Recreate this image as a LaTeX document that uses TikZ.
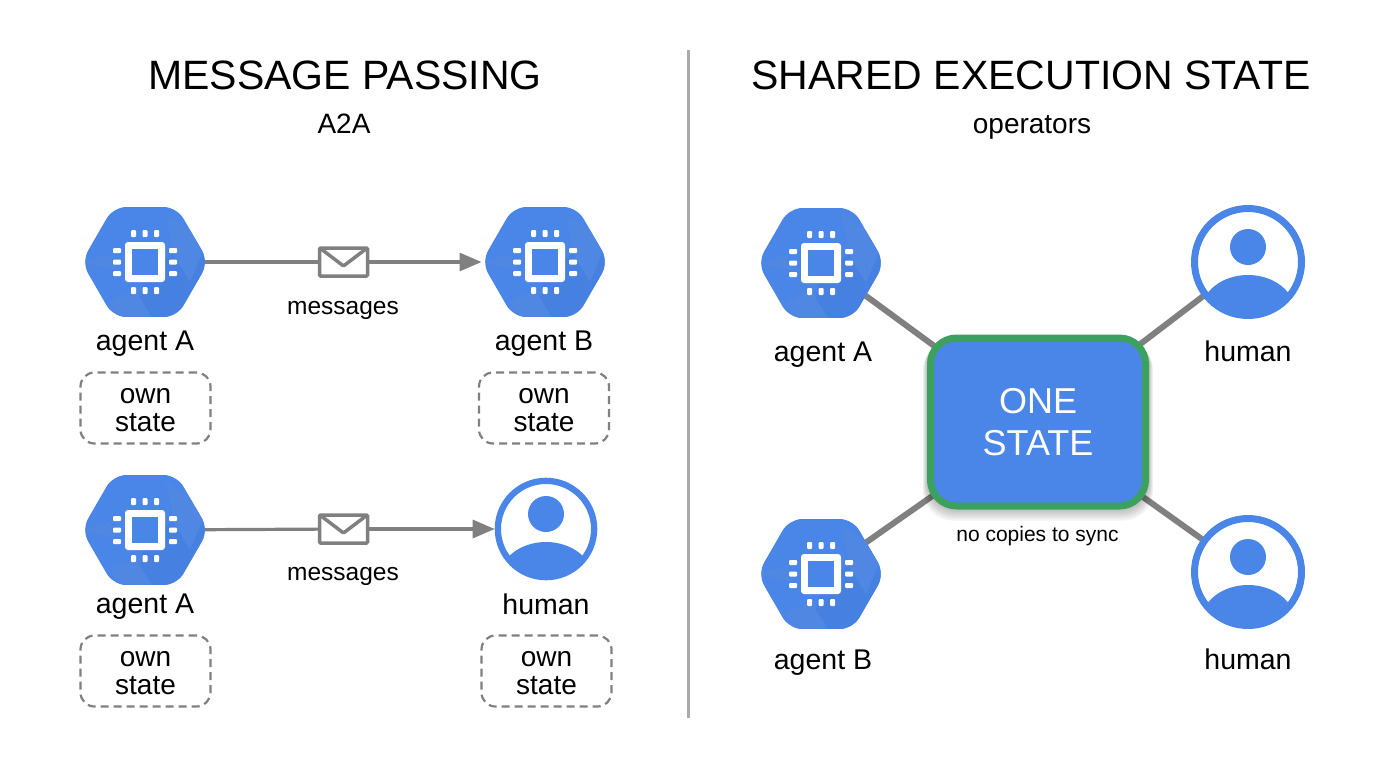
\documentclass[tikz,border=0pt]{standalone}
\usepackage{fontspec}
\setmainfont{Liberation Sans}
\usepackage{xcolor}
\definecolor{gblue}{RGB}{74,134,232}
\definecolor{gfacet}{RGB}{80,135,226}
\definecolor{gshade}{RGB}{70,129,226}
\definecolor{ggreen}{RGB}{60,160,95}
\definecolor{linegray}{RGB}{128,128,128}
\definecolor{divgray}{RGB}{170,170,170}
\usetikzlibrary{arrows.meta,shapes.geometric,backgrounds}

% chip symbol, drawn around the centre of the hexagon
\newcommand{\chipicon}{%
  \fill[gshade] (0,10) -- (60,-30) -- (60,60) -- (-10,60) -- cycle;
  \fill[gfacet] (20,-50) -- (62,-20) -- (45,20) -- (30,-5) -- cycle;
  \fill[gfacet] (-65,0) -- (-35,-8) -- (-28,8) -- cycle;
  \fill[gfacet] (-35,38) -- (-10,28) -- (10,60) -- (-25,60) -- cycle;
  \fill[white,rounded corners=3] (-20,-20) rectangle (20,20);
  \fill[gblue] (-13,-13) rectangle (13,13);
  \foreach \p in {-11.5,0,11.5} {
    \fill[white,rounded corners=1] (\p-2.5,-32) rectangle (\p+2.5,-25);
    \fill[white,rounded corners=1] (\p-2.5,25) rectangle (\p+2.5,32);
    \fill[white,rounded corners=1] (-32,\p-2.5) rectangle (-24,\p+2.5);
    \fill[white,rounded corners=1] (24,\p-2.5) rectangle (32,\p+2.5);
  }%
}
% head and shoulders, cut off by the round border
\newcommand{\personicon}{%
  \fill[gblue] (0,-15) circle (18);
  \fill[gblue] (0,50) ellipse (47 and 37);
}

\tikzset{
  chiphex/.style={regular polygon, regular polygon sides=6, minimum size=127, inner sep=0, outer sep=0,
    fill=gblue, rounded corners=13,
    path picture={\begin{scope}[shift={(path picture bounding box.center)},rounded corners=0]\chipicon\end{scope}}},
  personring/.style={circle, draw=gblue, fill=white, line width=#1*7, minimum size=#1*107, inner sep=0,
    path picture={\begin{scope}[shift={(path picture bounding box.center)},scale=#1]\personicon\end{scope}}},
  ownbox/.style={draw=linegray, line width=2.2, dash pattern=on 8pt off 5pt, rounded corners=14,
    minimum width=130, minimum height=71, inner sep=0, align=center, font=\fontsize{28}{28}\selectfont},
  envelope/.style={draw=linegray, fill=white, line width=3.5, minimum width=48, minimum height=28, inner sep=0,
    rounded corners=1,
    path picture={\draw[linegray,line width=3.5,shift={(path picture bounding box.center)}] (-25,-15) -- (0,4) -- (25,-15);}},
  msgline/.style={draw=linegray, line width=3.2},
  spoke/.style={draw=linegray, line width=6},
  bigtitle/.style={font=\fontsize{41}{41}\selectfont},
  subtitle/.style={font=\fontsize{28}{28}\selectfont},
  iconlabel/.style={font=\fontsize{28.5}{28.5}\selectfont},
  msglabel/.style={font=\fontsize{24.5}{24.5}\selectfont},
}

\begin{document}
\begin{tikzpicture}[x=1pt,y=-1pt]
\useasboundingbox (0,0) rectangle (1376,768);

% Divider
\coordinate (divtop) at (688,50);
\coordinate (divbot) at (688,718);
\draw[divgray, line width=3] (divtop) -- (divbot);

% Titles
\node[bigtitle] (titleleft) at (345,75) {MESSAGE PASSING};
\node[subtitle] (subleft) at (344,124) {A2A};
\node[bigtitle] (titleright) at (1031,75) {SHARED EXECUTION STATE};
\node[subtitle] (subright) at (1032,127) {operators};

% Agents
\foreach \name/\x/\y in {agentAtop/145/262, agentBtop/545/262, agentAlow/145/530, agentAright/821/263, agentBright/821/574} {
  \node[chiphex] (\name) at (\x,\y) {};
}

% Humans
\node[personring=0.9] (humanlow) at (546,529) {};
\node[personring=1] (humantop) at (1248,262) {};
\node[personring=1] (humanbot) at (1248,572) {};

% Labels under the icons
\foreach \name/\x/\y/\txt in {labAtop/145/344/agent A, labBtop/544/344/agent B, labAlow/145/607/agent A, labHlow/546/604/human,
    labAright/823/355/agent A, labHtop/1248/351/human, labBright/823/663/agent B, labHbot/1248/659/human} {
  \node[iconlabel] (\name) at (\x,\y) {\txt};
}

% Own state boxes
\foreach \name/\x/\y in {ownAtop/145.5/408, ownBtop/544/408, ownAlow/145.5/671, ownHlow/546.5/671} {
  \node[ownbox] (\name) at (\x,\y) {\rule{0pt}{20pt}own\\state};
}

% Messages
\node[envelope] (envtop) at (343.5,262) {};
\node[envelope] (envlow) at (343.5,529) {};
\node[msglabel] (msgtop) at (343,310) {messages};
\node[msglabel] (msglow) at (343,576) {messages};
\draw[msgline, -{Triangle[length=22pt,width=18pt]}] (envtop) -- (agentBtop);
\draw[msgline, -{Triangle[length=22pt,width=18pt]}] (envlow) -- (humanlow);

% Shared state
\node[draw=ggreen, fill=gblue, line width=7, rounded corners=26, minimum width=215, minimum height=168,
  inner sep=0, align=center, text=white, font=\fontsize{36}{42}\selectfont] (onestate) at (1038,422) {ONE\\STATE};
\node[font=\fontsize{21}{21}\selectfont] (nocopies) at (1037.5,536) {no copies to sync};

\begin{scope}[on background layer]
  \draw[msgline] (agentAtop.center) -- (envtop.center);
  \draw[msgline] (agentAlow.center) -- (envlow.center);
  \foreach \name in {agentAright, agentBright, humantop, humanbot} {
    \draw[spoke] (\name.center) -- (onestate.center);
  }
  % soft shadow of the box
  \foreach \g in {2,4,6,8,10} {
    \fill[black, opacity=0.05, rounded corners=30]
      ([xshift=-\g*0.4pt,yshift=-\g*0.6pt]onestate.north west) rectangle ([xshift=\g*0.4pt,yshift=-\g*1.1pt]onestate.south east);
  }
\end{scope}

\end{tikzpicture}
\end{document}
